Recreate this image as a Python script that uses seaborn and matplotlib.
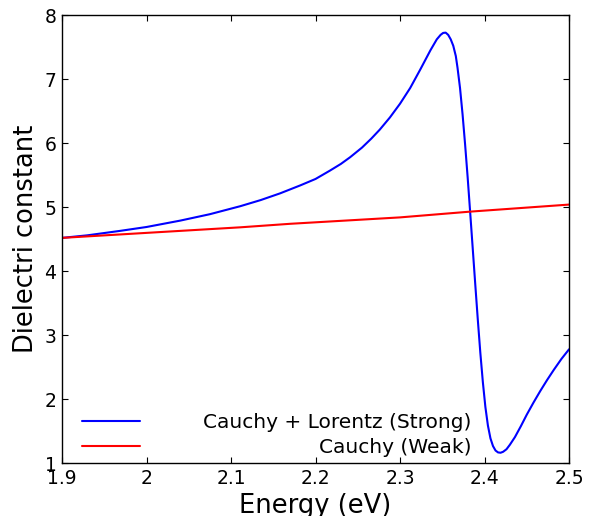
import matplotlib
matplotlib.use("Agg")
import matplotlib.pyplot as plt
import seaborn as sns

# values
energy_strong = [1.900, 1.930, 1.969, 2.000, 2.040, 2.075, 2.111, 2.135, 2.158,
                 2.182, 2.200, 2.217, 2.230, 2.241, 2.255, 2.266, 2.276, 2.288,
                 2.300, 2.312, 2.324, 2.336, 2.3435, 2.348, 2.351, 2.354, 2.357,
                 2.360, 2.363, 2.366, 2.368, 2.371, 2.374, 2.377, 2.380, 2.383,
                 2.386, 2.389, 2.392, 2.395, 2.398, 2.401, 2.404, 2.407, 2.410,
                 2.413, 2.416, 2.419, 2.422, 2.426, 2.430, 2.436, 2.443, 2.450,
                 2.458, 2.466, 2.474, 2.482, 2.491, 2.500]
eps_strong = [4.52, 4.56, 4.63, 4.69, 4.79, 4.89, 5.015, 5.11, 5.215,
              5.34, 5.44, 5.57, 5.675, 5.78, 5.93, 6.07, 6.21, 6.40,
              6.615, 6.86, 7.15, 7.45, 7.62, 7.69, 7.72, 7.725, 7.69,
              7.62, 7.52, 7.36, 7.18, 6.86, 6.45, 5.98, 5.47, 4.92,
              4.36, 3.80, 3.25, 2.73, 2.27, 1.88, 1.59, 1.39, 1.27,
              1.20, 1.17, 1.165, 1.18, 1.22, 1.29, 1.41, 1.58, 1.76,
              1.95, 2.13, 2.30, 2.46, 2.63, 2.78]

energy_weak = [1.900, 2.111, 2.170, 2.300, 2.383, 2.500]
eps_weak = [4.52, 4.685, 4.74, 4.84, 4.93, 5.04]

label_strong = "Cauchy + Lorentz (Strong)"
label_weak = "Cauchy (Weak)"

x_ticks = [1.9, 2.0, 2.1, 2.2, 2.3, 2.4, 2.5]
x_tick_labels = ["1.9", "2", "2.1", "2.2", "2.3", "2.4", "2.5"]
y_ticks = [1, 2, 3, 4, 5, 6, 7, 8]
y_tick_labels = ["1", "2", "3", "4", "5", "6", "7", "8"]

sns.set_theme(style="ticks", rc={
    "axes.linewidth": 1.0,
    "axes.edgecolor": "black",
    "axes.labelcolor": "black",
    "text.color": "black",
    "xtick.direction": "in",
    "ytick.direction": "in",
    "xtick.color": "black",
    "ytick.color": "black",
})
plt.rcParams["font.family"] = ["DejaVu Sans"]

fig = plt.figure(figsize=(5.89, 5.16), dpi=100)
ax = fig.add_axes([0.1053, 0.1021, 0.8608, 0.8688])

sns.lineplot(x=energy_strong, y=eps_strong, color="blue", lw=1.5,
             label=label_strong, ax=ax)
sns.lineplot(x=energy_weak, y=eps_weak, color="red", lw=1.5,
             label=label_weak, ax=ax)

ax.set_xlim(1.9, 2.5)
ax.set_ylim(1, 8)
ax.set_xticks(x_ticks)
ax.set_xticklabels(x_tick_labels)
ax.set_yticks(y_ticks)
ax.set_yticklabels(y_tick_labels)
ax.tick_params(axis="both", which="major", direction="in", length=4, width=0.8,
               pad=4, labelsize=13.5, top=True, right=True)
for side in ["top", "right"]:
    ax.spines[side].set_visible(True)

ax.set_xlabel("Energy (eV)", fontsize=18.5, labelpad=4)
ax.set_ylabel("Dielectri constant", fontsize=18.5, labelpad=4)

leg = ax.legend(loc="lower left", bbox_to_anchor=(0.039, 0.015), frameon=False,
                fontsize=14.5, handlelength=2.91, handletextpad=3.1,
                labelspacing=0.26, borderpad=0, borderaxespad=0)

# right-align the label texts while keeping the handles lined up on the left
fig.canvas.draw()
renderer = fig.canvas.get_renderer()
widths = [t.get_window_extent(renderer).width for t in leg.get_texts()]
rows = [row for col in leg._legend_handle_box.get_children()
        for row in col.get_children()]
for row, w in zip(rows, widths):
    row.sep += (max(widths) - w) * 72.0 / fig.dpi

fig.savefig("out.png", dpi=100)
